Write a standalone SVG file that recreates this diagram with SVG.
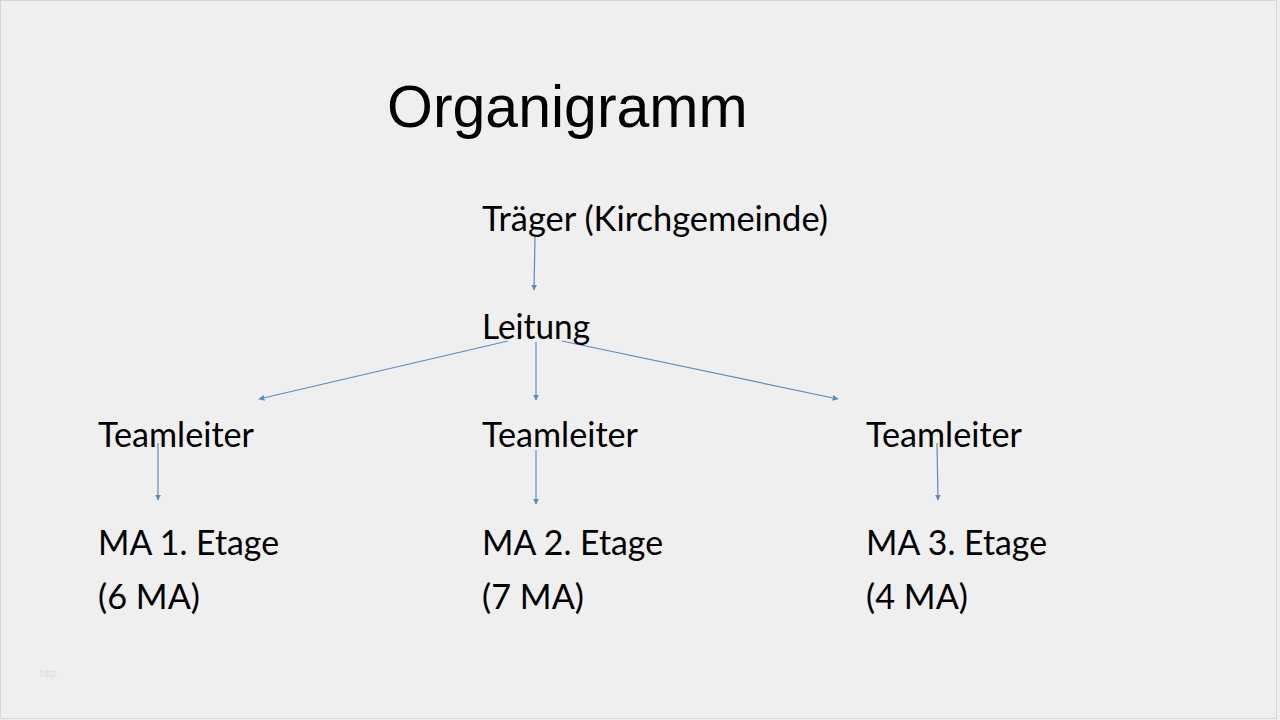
<svg xmlns="http://www.w3.org/2000/svg" width="1280" height="720" viewBox="0 0 1280 720">
<defs>
<style>
.t{font-family:Lato,"Open Sans","Noto Sans",sans-serif;font-size:34px;fill:#000}
.ttl{font-family:"Liberation Sans",Arial,sans-serif;font-size:59px;fill:#000}
.c{stroke:#5b8cc0;stroke-width:1.2;fill:none;marker-end:url(#ah)}
</style>
<marker id="ah" viewBox="0 0 10 10" refX="9" refY="5" markerWidth="6" markerHeight="6" markerUnits="userSpaceOnUse" orient="auto">
<path d="M0,0 L10,5 L0,10 z" fill="#5b8cc0"/>
</marker>
</defs>
<rect x="0" y="0" width="1280" height="720" fill="#efefef"/>
<rect x="0.5" y="0.5" width="1276" height="718" fill="none" stroke="#d6d6d6" stroke-width="1"/>
<text class="ttl" x="387" y="127">Organigramm</text>
<g id="connectors">
<line class="c" x1="535" y1="237" x2="534" y2="290"/>
<line class="c" x1="508" y1="341" x2="259" y2="399"/>
<line class="c" x1="536" y1="342" x2="536" y2="400"/>
<line class="c" x1="562" y1="341" x2="838" y2="399"/>
<line class="c" x1="158" y1="443" x2="158" y2="500"/>
<line class="c" x1="536" y1="450" x2="536" y2="504"/>
<line class="c" x1="937" y1="443" x2="938" y2="500"/>
</g>
<g id="traeger"><text class="t" x="482" y="231" textLength="346" lengthAdjust="spacingAndGlyphs">Träger (Kirchgemeinde)</text></g>
<g id="leitung"><text class="t" x="482" y="339" textLength="108" lengthAdjust="spacingAndGlyphs">Leitung</text></g>
<g id="teamleiter1"><text class="t" x="98" y="447" textLength="156" lengthAdjust="spacingAndGlyphs">Teamleiter</text></g>
<g id="teamleiter2"><text class="t" x="482" y="447" textLength="156" lengthAdjust="spacingAndGlyphs">Teamleiter</text></g>
<g id="teamleiter3"><text class="t" x="866" y="447" textLength="156" lengthAdjust="spacingAndGlyphs">Teamleiter</text></g>
<g id="ma1">
<text class="t" x="98" y="555" textLength="181" lengthAdjust="spacingAndGlyphs">MA 1. Etage</text>
<text class="t" x="98" y="609" textLength="102" lengthAdjust="spacingAndGlyphs">(6 MA)</text>
</g>
<g id="ma2">
<text class="t" x="482" y="555" textLength="181" lengthAdjust="spacingAndGlyphs">MA 2. Etage</text>
<text class="t" x="482" y="609" textLength="102" lengthAdjust="spacingAndGlyphs">(7 MA)</text>
</g>
<g id="ma3">
<text class="t" x="866" y="555" textLength="181" lengthAdjust="spacingAndGlyphs">MA 3. Etage</text>
<text class="t" x="866" y="609" textLength="102" lengthAdjust="spacingAndGlyphs">(4 MA)</text>
</g>
<text x="40" y="677" font-family="Liberation Sans,sans-serif" font-size="10" fill="#dedede">http</text>
</svg>
